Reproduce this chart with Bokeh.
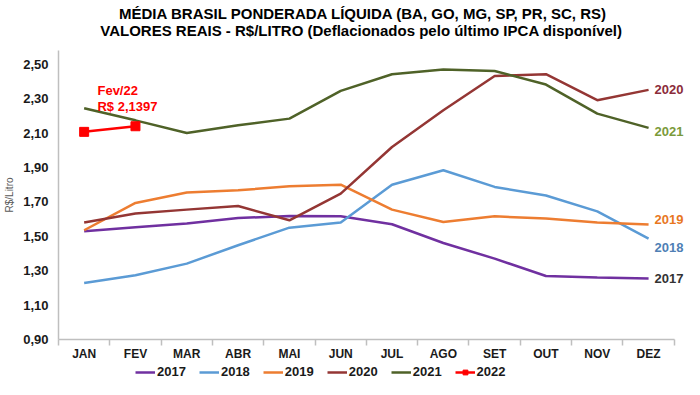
from bokeh.plotting import figure
from bokeh.layouts import column
from bokeh.models import (ColumnDataSource, Range1d, FixedTicker, Label,
                          CustomJSTickFormatter, Legend, LegendItem, LabelSet)
from bokeh.core.properties import value
from bokeh.embed import file_html
from bokeh.resources import INLINE

months = ["JAN", "FEV", "MAR", "ABR", "MAI", "JUN", "JUL", "AGO", "SET", "OUT", "NOV", "DEZ"]
v2017 = [1.529, 1.552, 1.574, 1.606, 1.618, 1.616, 1.570, 1.461, 1.370, 1.269, 1.260, 1.254]
v2018 = [1.229, 1.273, 1.341, 1.448, 1.550, 1.580, 1.800, 1.884, 1.787, 1.737, 1.645, 1.487]
v2019 = [1.535, 1.694, 1.754, 1.767, 1.791, 1.800, 1.655, 1.583, 1.616, 1.603, 1.580, 1.568]
v2020 = [1.580, 1.632, 1.655, 1.676, 1.593, 1.748, 2.019, 2.233, 2.432, 2.442, 2.291, 2.351]
v2021 = [2.244, 2.174, 2.100, 2.145, 2.184, 2.345, 2.442, 2.469, 2.461, 2.382, 2.213, 2.130]
v2022 = [2.107, 2.1397]
years = ["2017", "2018", "2019", "2020", "2021"]
y_ticks = [0.90, 1.10, 1.30, 1.50, 1.70, 1.90, 2.10, 2.30, 2.50]
title1 = "MÉDIA BRASIL PONDERADA LÍQUIDA (BA, GO, MG, SP, PR, SC, RS)"
title2 = "VALORES REAIS - R$/LITRO (Deflacionados  pelo último IPCA disponível)"

line_colors = ["#7030a0", "#5b9bd5", "#ed7d31", "#943634", "#4f6228"]
label_colors = ["#333333", "#4f7fb5", "#e8771e", "#8b2c3a", "#7a9a3a"]
label_dy = [0, -9, 5, 0, -4]
c2022 = "#ff0000"

TITLE_FONT = "Liberation Sans Narrow, Arial Narrow, Liberation Sans, Arial"
FONT = "Liberation Sans"
W = 684
LEFT = 58

# ---- title strip -------------------------------------------------------
pt = figure(width=W, height=50, x_range=Range1d(0, 1), y_range=Range1d(0, 1), title=None,
            output_backend="svg", toolbar_location=None, x_axis_location=None,
            y_axis_location=None, min_border=0, min_border_left=LEFT, min_border_right=0)
pt.outline_line_color = None
pt.grid.visible = False
for txt, ty in ((title1, 37), (title2, 20)):
    pt.add_layout(Label(x=305, y=ty, x_units="screen", y_units="screen", text=txt,
                        text_align="center", text_baseline="middle", text_font=TITLE_FONT,
                        text_font_size="15px", text_font_style="bold", text_color="#000000"))

# ---- main chart ----------------------------------------------------------
n = len(months)
slot = {m: i + 0.5 for i, m in enumerate(months)}

p = figure(width=W, height=313, x_range=Range1d(0, 12.2), y_range=Range1d(0.9, 2.58), title=None,
           output_backend="svg", toolbar_location=None,
           min_border_left=LEFT, min_border_right=0, min_border_top=0, min_border_bottom=24)
p.outline_line_color = None
p.grid.visible = False

p.yaxis.ticker = FixedTicker(ticks=y_ticks)
p.yaxis.formatter = CustomJSTickFormatter(code="return tick.toFixed(2).replace('.', ',');")
p.yaxis.major_label_text_font = FONT
p.yaxis.major_label_text_font_style = "bold"
p.yaxis.major_label_text_font_size = "13px"
p.yaxis.major_label_text_color = "#1a1a1a"
p.yaxis.major_tick_out = 0
p.yaxis.major_tick_in = 0
p.yaxis.minor_tick_line_color = None
p.yaxis.axis_line_color = "#bfbfbf"
p.yaxis.axis_line_width = 1.5
p.yaxis.major_label_standoff = 10
p.yaxis.axis_label = "R$/Litro"
p.yaxis.axis_label_text_font = FONT
p.yaxis.axis_label_text_font_style = "normal"
p.yaxis.axis_label_text_font_size = "10px"
p.yaxis.axis_label_text_color = "#595959"
p.yaxis.axis_label_standoff = 5

xaxis = p.xaxis[0]
centers = [slot[m] for m in months]
xaxis.ticker = FixedTicker(ticks=centers, minor_ticks=list(range(n + 1)))
xaxis.major_label_overrides = {c: m for c, m in zip(centers, months)}
xaxis.bounds = (0, n)
xaxis.major_tick_out = 0
xaxis.major_tick_in = 0
xaxis.minor_tick_out = 6
xaxis.minor_tick_in = 0
xaxis.minor_tick_line_color = "#bfbfbf"
xaxis.minor_tick_line_width = 1.5
xaxis.axis_line_color = "#bfbfbf"
xaxis.axis_line_width = 1.5
xaxis.major_label_text_font = FONT
xaxis.major_label_text_font_style = "bold"
xaxis.major_label_text_font_size = "12px"
xaxis.major_label_text_color = "#1a1a1a"
xaxis.major_label_standoff = 1

series = [v2017, v2018, v2019, v2020, v2021]
for yr, vals, col in zip(years, series, line_colors):
    src = ColumnDataSource(dict(x=[slot[m] for m in months], y=vals))
    p.line("x", "y", source=src, line_color=col, line_width=2.5)

src22 = ColumnDataSource(dict(x=[slot[m] for m in months[:len(v2022)]], y=v2022))
p.line("x", "y", source=src22, line_color=c2022, line_width=2.5)
p.scatter("x", "y", source=src22, marker="square", size=9, fill_color=c2022, line_color=c2022)

end_src = ColumnDataSource(dict(x=[slot[months[-1]]] * len(years), y=[s[-1] for s in series],
                                text=years, color=label_colors, dy=label_dy))
p.add_layout(LabelSet(x="x", y="y", text="text", source=end_src, x_offset=6, y_offset="dy",
                      text_color="color", text_font=value(FONT), text_font_style="bold",
                      text_font_size="13px", text_baseline="middle", text_align="left"))

ann_src = ColumnDataSource(dict(x=[slot[months[len(v2022) - 1]]], y=[v2022[-1]],
                                text=["Fev/22\nR$ " + f"{v2022[-1]:.4f}".replace(".", ",")]))
p.add_layout(LabelSet(x="x", y="y", text="text", source=ann_src, x_offset=-8, y_offset=12,
                      text_color=c2022, text_font=value(FONT), text_font_style="bold",
                      text_font_size="13px", text_baseline="bottom", text_align="center",
                      text_line_height=1.05))

# ---- legend strip --------------------------------------------------------
pl = figure(width=W, height=16, x_range=Range1d(0, 1), y_range=Range1d(0, 1), title=None,
            output_backend="svg", toolbar_location=None, x_axis_location=None,
            y_axis_location=None, min_border=0, min_border_left=LEFT, min_border_right=0)
pl.outline_line_color = None
pl.grid.visible = False
nan = [float("nan")]
items = []
for yr, col in zip(years, line_colors):
    r = pl.line(x=nan, y=nan, line_color=col, line_width=2.5)
    items.append(LegendItem(label=yr, renderers=[r]))
rl = pl.line(x=nan, y=nan, line_color=c2022, line_width=2.5)
rm = pl.scatter(x=nan, y=nan, marker="square", size=9, fill_color=c2022, line_color=c2022)
items.append(LegendItem(label="2022", renderers=[rl, rm]))
legend = Legend(items=items, orientation="horizontal", location=(77, 0),
                glyph_width=20, glyph_height=12, label_standoff=2, spacing=13,
                padding=0, margin=0, border_line_color=None, background_fill_alpha=0,
                label_text_font=FONT, label_text_font_style="bold", label_text_font_size="13px",
                label_text_color="#1a1a1a")
pl.add_layout(legend, "center")

layout = column(pt, p, pl, spacing=0)
open("out.html", "w").write(file_html(layout, INLINE))
